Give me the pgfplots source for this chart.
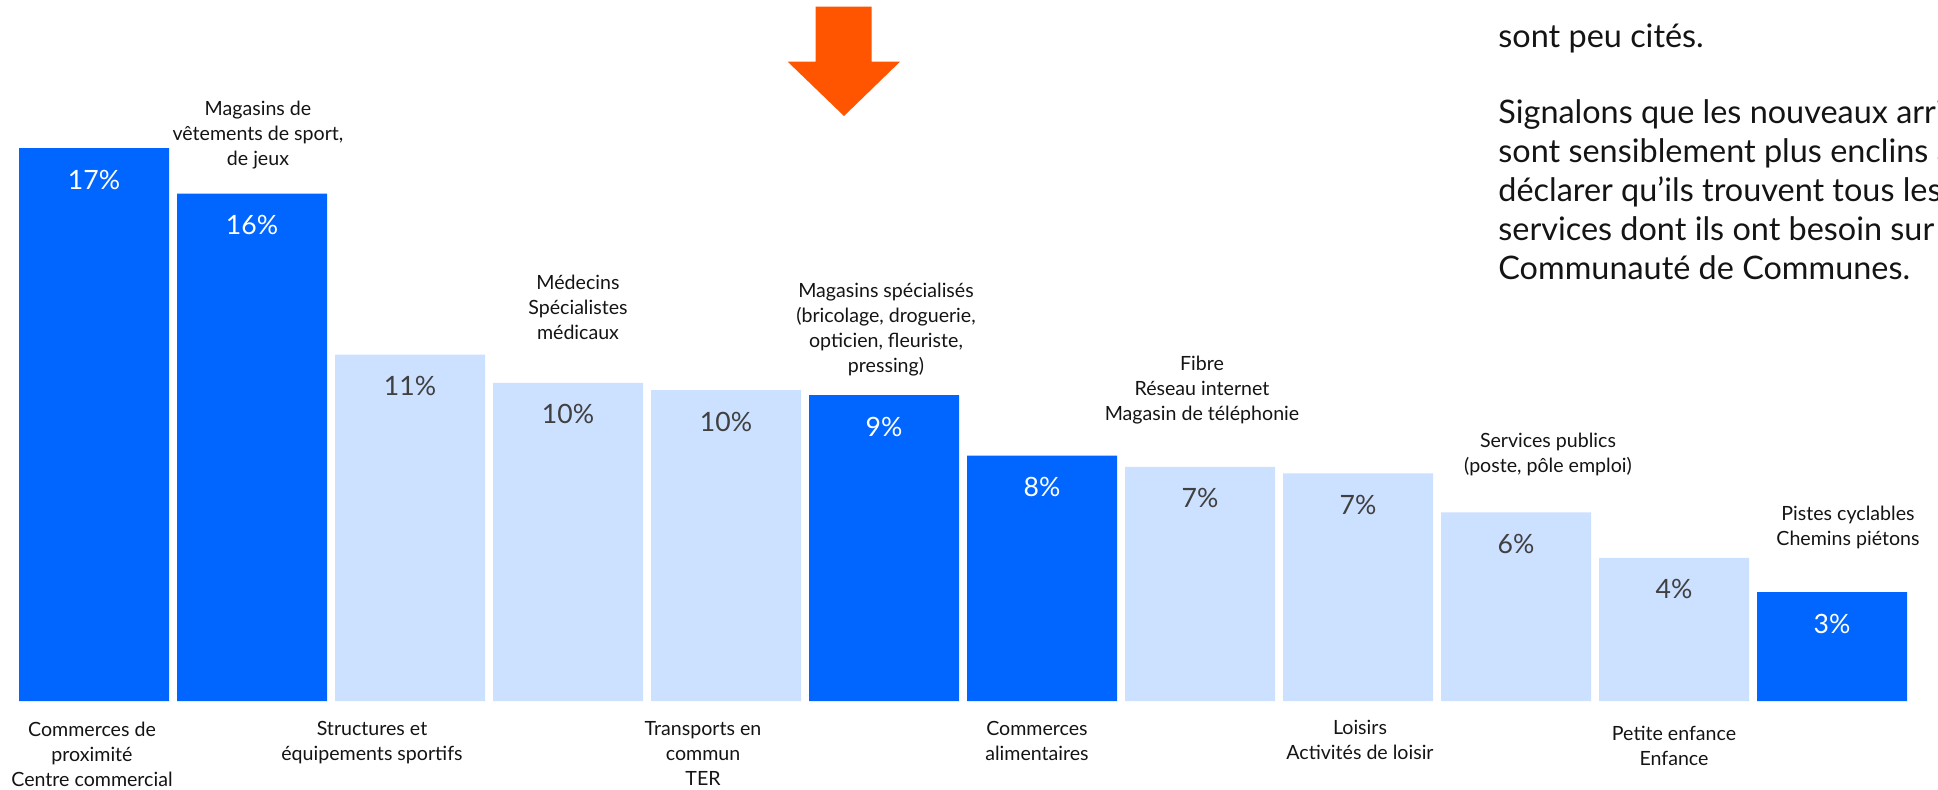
\documentclass[border=0pt]{standalone}
\usepackage{fontspec}
\setmainfont{Lato}
\usepackage{pgfplots}
\pgfplotsset{compat=1.18}
\usepackage{pgfplotstable}
\definecolor{darkbar}{RGB}{0,102,255}
\definecolor{lightbar}{RGB}{204,224,255}
\definecolor{arrowc}{RGB}{255,85,0}
\definecolor{pctgray}{RGB}{64,64,64}
\definecolor{txt}{RGB}{20,20,20}

\pgfplotstableread{
x y lab
1 17.0 17
2 15.6 16
6 9.4 9
7 7.54 8
12 3.35 3
}\darkdata
\pgfplotstableread{
x y lab
3 10.65 11
4 9.78 10
5 9.56 10
8 7.2 7
9 7.0 7
10 5.8 6
11 4.4 4
}\lightdata

\begin{document}
\begin{tikzpicture}[lbl/.style={align=center, inner sep=0pt, text=txt, font=\fontsize{9.8}{12.5}\selectfont}]
\useasboundingbox (0,0) rectangle (969pt,394.5pt);
\clip (0,0) rectangle (969pt,394.5pt);
\fill[arrowc] (407.85pt,391.15pt) -- (435.85pt,391.15pt) -- (435.85pt,363.65pt) -- (450pt,363.65pt) -- (422pt,336.5pt) -- (393.85pt,363.65pt) -- (407.85pt,363.65pt) -- cycle;
\node[anchor=base west, align=left, inner sep=0pt, text=txt, font=\fontsize{16.2}{19.5}\selectfont] at (749pt,255pt)
  {sont peu cités.\\[18.2pt]Signalons que les nouveaux arrivants\\sont sensiblement plus enclins à\\déclarer qu’ils trouvent tous les\\services dont ils ont besoin sur la\\Communauté de Communes.};
\begin{axis}[at={(9.5pt,44pt)}, anchor=south west, scale only axis,
  width=944pt, height=276.5pt,
  xmin=0.5253, xmax=12.4747, ymin=0, ymax=17,
  hide axis, clip=false]
\addplot[ybar, bar shift=0pt, bar width=75pt, fill=darkbar, draw=none,
  point meta=explicit symbolic, nodes near coords={\pgfplotspointmeta\%},
  every node near coord/.append style={anchor=center, yshift=-15.75pt, text=white, font=\fontsize{13.3}{16}\selectfont}]
  table[x=x, y=y, meta=lab]{\darkdata};
\addplot[ybar, bar shift=0pt, bar width=75pt, fill=lightbar, draw=none,
  point meta=explicit symbolic, nodes near coords={\pgfplotspointmeta\%},
  every node near coord/.append style={anchor=center, yshift=-15.75pt, text=pctgray, font=\fontsize{13.3}{16}\selectfont}]
  table[x=x, y=y, meta=lab]{\lightdata};
% labels above bars (anchor = baseline of last line)
\node[lbl, anchor=base, xshift=3pt, yshift=268pt] at (axis cs:2,0) {Magasins de\\vêtements de sport,\\de jeux};
\node[lbl, anchor=base, xshift=5pt, yshift=181pt] at (axis cs:4,0) {Médecins\\Spécialistes\\médicaux};
\node[lbl, anchor=base, xshift=1pt, yshift=164.5pt] at (axis cs:6,0) {Magasins spécialisés\\(bricolage, droguerie,\\opticien, fleuriste,\\pressing)};
\node[lbl, anchor=base, xshift=1pt, yshift=140.5pt] at (axis cs:8,0) {Fibre\\Réseau internet\\Magasin de téléphonie};
\node[lbl, anchor=base, xshift=16pt, yshift=114.5pt] at (axis cs:10,0) {Services publics\\(poste, pôle emploi)};
\node[lbl, anchor=base, xshift=8pt, yshift=78pt] at (axis cs:12,0) {Pistes cyclables\\Chemins piétons};
% labels below bars (anchor = baseline of last line)
\node[lbl, anchor=base, xshift=-1pt, yshift=-42.5pt] at (axis cs:1,0) {Commerces de\\proximité\\Centre commercial};
\node[lbl, anchor=base, xshift=-19pt, yshift=-29.5pt] at (axis cs:3,0) {Structures et\\équipements sportifs};
\node[lbl, anchor=base, xshift=-11.5pt, yshift=-42pt] at (axis cs:5,0) {Transports en\\commun\\TER};
\node[lbl, anchor=base, xshift=-2.5pt, yshift=-29.5pt] at (axis cs:7,0) {Commerces\\alimentaires};
\node[lbl, anchor=base, xshift=1pt, yshift=-29pt] at (axis cs:9,0) {Loisirs\\Activités de loisir};
\node[lbl, anchor=base, xshift=0pt, yshift=-32pt] at (axis cs:11,0) {Petite enfance\\Enfance};
\end{axis}
\end{tikzpicture}
\end{document}
